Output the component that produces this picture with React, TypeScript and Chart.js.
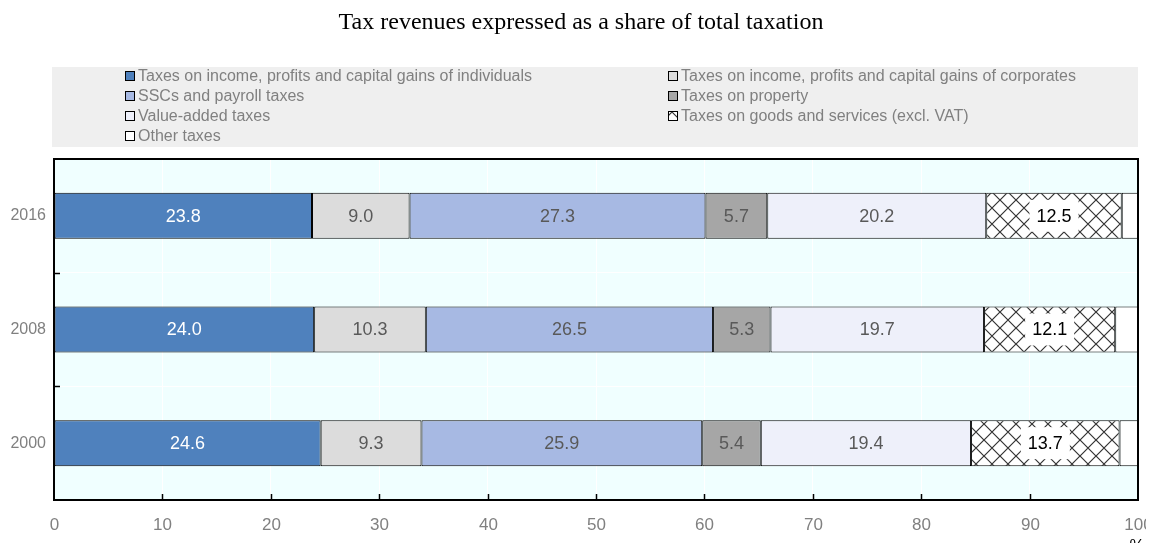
import React, { useEffect, useRef } from "react";
import { Chart, registerables } from "chart.js";

Chart.register(...registerables);

const TITLE = "Tax revenues expressed as a share of total taxation";
const years = ["2016", "2008", "2000"];
const seriesNames = [
  "Taxes on income, profits and capital gains of individuals",
  "Taxes on income, profits and capital gains of corporates",
  "SSCs and payroll taxes",
  "Taxes on property",
  "Value-added taxes",
  "Taxes on goods and services (excl. VAT)",
  "Other taxes",
];
const individuals = [23.8, 24.0, 24.6];
const corporates = [9.0, 10.3, 9.3];
const sscs = [27.3, 26.5, 25.9];
const property = [5.7, 5.3, 5.4];
const vat = [20.2, 19.7, 19.4];
const goodsServices = [12.5, 12.1, 13.7];
const otherTaxes = [1.5, 2.1, 1.7];
const xTicks = [0, 10, 20, 30, 40, 50, 60, 70, 80, 90, 100];

const colors = ["#4f81bd", "#dcdcdc", "#a7b9e3", "#a6a6a6", "#eef0fa", "HATCH", "#ffffff"];
const labelColors = ["#ffffff", "#595959", "#595959", "#595959", "#595959", "#000000", null];

const FONT = "'Liberation Sans Narrow', 'Arial Narrow', 'Liberation Sans', Arial, sans-serif";
const W = 1146;
const H = 543;

function makeHatch(): CanvasPattern | string {
  const c = document.createElement("canvas");
  const s = 16;
  c.width = s;
  c.height = s;
  const g = c.getContext("2d");
  if (!g) return "#fff";
  g.fillStyle = "#ffffff";
  g.fillRect(0, 0, s, s);
  g.strokeStyle = "#333";
  g.lineWidth = 1.2;
  g.beginPath();
  g.moveTo(0, 0);
  g.lineTo(s, s);
  g.moveTo(s, 0);
  g.lineTo(0, s);
  g.stroke();
  const p = g.createPattern(c, "repeat");
  return p || "#fff";
}

export default function App() {
  const ref = useRef<HTMLCanvasElement | null>(null);

  useEffect(() => {
    if (!ref.current) return;
    const hatch = makeHatch();
    const dataArrays = [individuals, corporates, sscs, property, vat, goodsServices, otherTaxes];

    const decor = {
      id: "decor",
      beforeDraw(chart: any) {
        const { ctx, chartArea: a } = chart;
        ctx.save();
        ctx.fillStyle = "#f0ffff";
        ctx.fillRect(a.left, a.top, a.right - a.left, a.bottom - a.top);
        ctx.restore();
      },
      afterDraw(chart: any) {
        const { ctx, chartArea: a } = chart;
        ctx.save();
        // title
        ctx.fillStyle = "#000";
        ctx.font = "24px 'Liberation Serif', 'Times New Roman', serif";
        ctx.textAlign = "center";
        ctx.textBaseline = "middle";
        ctx.fillText(TITLE, 573, 15);
        // legend box
        ctx.fillStyle = "#efefef";
        ctx.fillRect(44, 59, 1086, 80);
        ctx.font = "16px " + FONT;
        ctx.textAlign = "left";
        const cols = [117, 660];
        seriesNames.forEach((n, i) => {
          const col = i % 2;
          const row = Math.floor(i / 2);
          const x = cols[col];
          const y = 68 + row * 20;
          const c = colors[i] === "HATCH" ? hatch : colors[i];
          ctx.fillStyle = c as any;
          ctx.fillRect(x, y - 5, 10, 10);
          ctx.strokeStyle = "#000";
          ctx.lineWidth = 1;
          ctx.strokeRect(x + 0.5, y - 4.5, 9, 9);
          ctx.fillStyle = "#808080";
          ctx.textBaseline = "middle";
          ctx.fillText(n, x + 13, y + 1);
        });
        // inward ticks + x labels
        const xs = chart.scales.x;
        ctx.font = "17px " + FONT;
        ctx.textAlign = "center";
        ctx.textBaseline = "middle";
        ctx.fillStyle = "#808080";
        ctx.strokeStyle = "#000";
        ctx.lineWidth = 1.5;
        xTicks.forEach((v) => {
          const px = Math.round(xs.getPixelForValue(v)) + 0.5;
          ctx.fillText(String(v), px, 517);
          if (v === 0 || v === 100) return;
          ctx.beginPath();
          ctx.moveTo(px, a.bottom);
          ctx.lineTo(px, a.bottom - 6);
          ctx.stroke();
        });
        const ys = chart.scales.y;
        for (let i = 0; i < years.length - 1; i++) {
          const py = Math.round((ys.getPixelForValue(i) + ys.getPixelForValue(i + 1)) / 2) + 0.5;
          ctx.beginPath();
          ctx.moveTo(a.left, py);
          ctx.lineTo(a.left + 6, py);
          ctx.stroke();
        }
        // frame
        ctx.strokeStyle = "#000";
        ctx.lineWidth = 2;
        ctx.strokeRect(a.left, a.top, a.right - a.left, a.bottom - a.top);
        // % sign
        ctx.fillStyle = "#000";
        ctx.font = "17px " + FONT;
        ctx.textAlign = "center";
        ctx.textBaseline = "middle";
        ctx.fillText("%", a.right - 1, 538);
        ctx.restore();
      },
      afterDatasetsDraw(chart: any) {
        const { ctx } = chart;
        ctx.save();
        ctx.font = "18px " + FONT;
        ctx.textAlign = "center";
        ctx.textBaseline = "middle";
        chart.data.datasets.forEach((ds: any, di: number) => {
          const lc = labelColors[di];
          if (!lc) return;
          const meta = chart.getDatasetMeta(di);
          meta.data.forEach((el: any, i: number) => {
            const v = ds.data[i];
            const txt = v.toFixed(1);
            const cx = (el.x + el.base) / 2;
            const cy = el.y;
            if (di === 5) {
              const w = ctx.measureText(txt).width + 14;
              ctx.fillStyle = "#ffffff";
              ctx.fillRect(cx - w / 2, cy - 16, w, 32);
            }
            ctx.fillStyle = lc;
            ctx.fillText(txt, cx, cy + 1);
          });
        });
        ctx.restore();
      },
    };

    const chart = new Chart(ref.current, {
      type: "bar",
      data: {
        labels: years,
        datasets: dataArrays.map((d, i) => ({
          label: seriesNames[i],
          data: d,
          backgroundColor: colors[i] === "HATCH" ? (hatch as any) : colors[i],
          borderColor: "#000000",
          borderWidth: 1,
          borderSkipped: false,
          barPercentage: 0.405,
          categoryPercentage: 1,
        })),
      },
      options: {
        indexAxis: "y",
        animation: false,
        responsive: false,
        maintainAspectRatio: false,
        devicePixelRatio: 1,
        layout: { padding: { top: 151, right: 16, left: 0, bottom: 0 } },
        plugins: {
          legend: { display: false },
          title: { display: false },
          tooltip: { enabled: false },
        },
        scales: {
          x: {
            stacked: true,
            min: 0,
            max: 100,
            afterFit: (s: any) => {
              s.height = 51;
              s.paddingLeft = 0;
              s.paddingRight = 0;
            },
            ticks: {
              stepSize: 10,
              display: false,
            },
            grid: { color: "#ffffff", lineWidth: 1, drawTicks: false },
            border: { display: false },
          },
          y: {
            stacked: true,
            afterFit: (s: any) => {
              s.width = 46;
            },
            ticks: {
              color: "#808080",
              font: { family: FONT, size: 16 },
              padding: 8,
            },
            grid: { color: "#ffffff", lineWidth: 1, drawTicks: false, offset: true },
            border: { display: false },
          },
        },
      },
      plugins: [decor],
    });
    return () => chart.destroy();
  }, []);

  return (
    <div style={{ width: W, height: H, marginBottom: -8 }}>
      <canvas ref={ref} width={W} height={H} style={{ display: "block", width: W, height: H }} />
    </div>
  );
}
